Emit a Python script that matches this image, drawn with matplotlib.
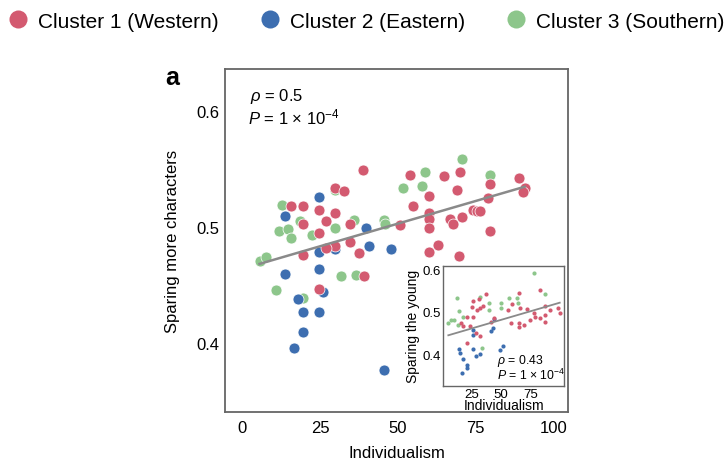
import numpy as np
import matplotlib
matplotlib.use('Agg')
import matplotlib.pyplot as plt
from matplotlib.lines import Line2D

plt.rcParams['font.family'] = ['Liberation Sans', 'DejaVu Sans']
plt.rcParams['mathtext.fontset'] = 'custom'
plt.rcParams['mathtext.rm'] = 'Liberation Sans'
plt.rcParams['mathtext.it'] = 'Liberation Sans:italic'

# ---------------- data ----------------
cluster_labels = ['Cluster 1 (Western)', 'Cluster 2 (Eastern)', 'Cluster 3 (Southern)']
cluster_colors = ['#d35a70', '#3d6eb0', '#8dc68b']

# main panel: individualism vs. sparing more characters
west_x = [38.7, 29.6, 32.7, 15.6, 19.6, 24.6, 29.6, 19.6, 26.7, 34.6, 24.6, 34.6, 29.6, 26.7,
          37.6, 19.6, 38.9, 24.6, 53.8, 64.7, 69.9, 88.9, 68.8, 79.7, 90.7, 90.0, 59.8, 54.7,
          78.8, 59.8, 59.8, 74.1, 75.4, 76.3, 70.7, 66.7, 67.7, 50.6, 59.8, 79.7, 62.7, 59.8, 69.6]
west_y = [0.549, 0.534, 0.531, 0.518, 0.518, 0.515, 0.512, 0.503, 0.505, 0.503, 0.495, 0.487,
          0.484, 0.482, 0.478, 0.476, 0.458, 0.447, 0.545, 0.544, 0.547, 0.542, 0.532, 0.537,
          0.534, 0.530, 0.527, 0.518, 0.525, 0.512, 0.507, 0.515, 0.514, 0.514, 0.509, 0.507,
          0.503, 0.502, 0.499, 0.497, 0.485, 0.479, 0.475]
east_x = [24.6, 13.6, 39.6, 40.6, 29.6, 24.6, 47.6, 13.6, 24.6, 25.9, 17.7, 19.6, 24.6, 19.6,
          16.7, 45.6]
east_y = [0.526, 0.510, 0.499, 0.484, 0.481, 0.479, 0.481, 0.460, 0.464, 0.444, 0.438, 0.427,
          0.427, 0.410, 0.396, 0.377]
south_x = [29.6, 12.6, 18.6, 35.7, 45.6, 45.9, 11.6, 14.6, 29.6, 15.6, 22.5, 5.5, 7.5, 31.6,
           36.5, 10.7, 19.6, 70.7, 58.7, 79.7, 51.7, 57.7]
south_y = [0.532, 0.519, 0.505, 0.506, 0.506, 0.503, 0.497, 0.498, 0.499, 0.491, 0.493, 0.471,
           0.474, 0.458, 0.459, 0.446, 0.439, 0.559, 0.547, 0.545, 0.534, 0.535]
main_fit = [0.000779, 0.4641]          # slope, intercept
main_stats = ('0.5', '-4')             # rho, P exponent

# inset: individualism vs. sparing the young
in_west_x = [37.3, 31.6, 25.9, 59.3, 65.6, 83.6, 29.3, 32.1, 35.0, 20.7, 25.9, 41.3, 43.6, 56.1,
             66.4, 72.1, 78.4, 75.0, 79.3, 83.6, 87.9, 87.9, 87.9, 92.1, 98.7, 100.1, 58.7, 65.0,
             65.0, 69.3, 17.9, 23.6, 20.7, 32.1, 28.7, 15.9, 25.0]
in_west_y = [0.542, 0.530, 0.526, 0.518, 0.545, 0.552, 0.505, 0.509, 0.513, 0.487, 0.489, 0.477,
             0.485, 0.505, 0.509, 0.507, 0.497, 0.481, 0.489, 0.485, 0.513, 0.493, 0.477, 0.505,
             0.509, 0.497, 0.473, 0.473, 0.465, 0.469, 0.466, 0.466, 0.427, 0.443, 0.451, 0.473,
             0.512]
in_east_x = [44.1, 25.9, 25.9, 43.0, 41.3, 14.4, 15.0, 25.9, 32.1, 28.7, 17.9, 20.7, 20.7, 17.0,
             49.3, 51.6]
in_east_y = [0.483, 0.457, 0.445, 0.463, 0.455, 0.412, 0.404, 0.412, 0.400, 0.396, 0.389, 0.375,
             0.367, 0.356, 0.411, 0.419]
in_south_x = [77.9, 87.9, 56.4, 63.6, 64.1, 49.9, 49.9, 32.1, 12.7, 39.3, 40.1, 14.4, 17.9, 7.0,
              5.0, 9.9, 13.6, 33.6]
in_south_y = [0.591, 0.542, 0.532, 0.532, 0.522, 0.520, 0.509, 0.536, 0.532, 0.520, 0.505, 0.501,
              0.489, 0.481, 0.473, 0.480, 0.469, 0.414]
inset_fit = [0.000805, 0.441]
inset_stats = ('0.43', '-4')

x_ticks = [0, 25, 50, 75, 100]
y_ticks = [0.4, 0.5, 0.6]
inset_x_ticks = [25, 50, 75]

# ---------------- figure ----------------
W, H = 727, 460
fig = plt.figure(figsize=(W / 100, H / 100), dpi=100)
spine_col = '#666666'
line_col = '#8a8a8a'

ax = fig.add_axes([225 / W, (H - 413) / H, 343 / W, 343 / H])
ax.set_xlim(-5.6, 104.6)
ax.set_ylim(0.341, 0.636)

groups = [(south_x, south_y, 2), (east_x, east_y, 1), (west_x, west_y, 0)]
for gx, gy, ci in groups:
    ax.scatter(gx, gy, s=62, color=cluster_colors[ci], edgecolors='white', linewidths=0.5, zorder=3)

all_x = np.array(west_x + east_x + south_x)
xx = np.array([all_x.min(), all_x.max()])
ax.plot(xx, main_fit[0] * xx + main_fit[1], color=line_col, lw=1.8, zorder=4)

ax.set_xticks(x_ticks)
ax.set_yticks(y_ticks)
ax.set_yticklabels(['0.4', '0.5', '0.6'])
ax.tick_params(length=0, labelsize=12)
ax.tick_params(axis='y', pad=4)
ax.tick_params(axis='x', pad=6)
for sp in ax.spines.values():
    sp.set_color(spine_col)
    sp.set_linewidth(1.3)
ax.set_xlabel('Individualism', fontsize=12, labelpad=7)
ax.set_ylabel('Sparing more characters', fontsize=12, labelpad=12)

ax.text(0.073, 0.922, r'$\rho$ = ' + main_stats[0], transform=ax.transAxes, fontsize=12, va='center')
ax.text(0.068, 0.862, r'$P$ = 1 × 10$^{' + main_stats[1].replace('-', '−') + '}$',
        transform=ax.transAxes, fontsize=12, va='center')

fig.text(172 / W, 1 - 78 / H, 'a', fontsize=18, fontweight='bold', ha='center', va='center')

# inset
axin = fig.add_axes([443.3 / W, (H - 386.5) / H, 121 / W, 120 / H])
axin.set_xlim(0.7, 104)
axin.set_ylim(0.327, 0.609)
in_groups = [(in_south_x, in_south_y, 2), (in_east_x, in_east_y, 1), (in_west_x, in_west_y, 0)]
for gx, gy, ci in in_groups:
    axin.scatter(gx, gy, s=9, color=cluster_colors[ci], linewidths=0, zorder=3)
in_all = np.array(in_west_x + in_east_x + in_south_x)
xi = np.array([in_all.min(), in_all.max()])
axin.plot(xi, inset_fit[0] * xi + inset_fit[1], color=line_col, lw=1.3, zorder=4)
axin.set_xticks(inset_x_ticks)
axin.set_yticks(y_ticks)
axin.set_yticklabels(['0.4', '0.5', '0.6'])
axin.tick_params(length=0, labelsize=9.5, pad=1.5)
for sp in axin.spines.values():
    sp.set_color(spine_col)
    sp.set_linewidth(1.0)
axin.set_xlabel('Individualism', fontsize=10, labelpad=-1)
axin.set_ylabel('Sparing the young', fontsize=10, labelpad=2)
axin.text(0.44, 0.215, r'$\rho$ = ' + inset_stats[0], transform=axin.transAxes, fontsize=8.8, va='center')
axin.text(0.44, 0.092, r'$P$ = 1 × 10$^{' + inset_stats[1].replace('-', '−') + '}$',
          transform=axin.transAxes, fontsize=8.8, va='center')

# legend
handles = [Line2D([], [], ls='none', marker='o', markersize=13, color=c, markeredgewidth=0)
           for c in cluster_colors]
fig.legend(handles, cluster_labels, loc='center left', bbox_to_anchor=(7.6 / W, 1 - 22 / H),
           ncol=3, frameon=False, fontsize=15, handlelength=1.0, handletextpad=0.46,
           columnspacing=1.95, borderpad=0, borderaxespad=0)

fig.savefig('out.png', dpi=100)
